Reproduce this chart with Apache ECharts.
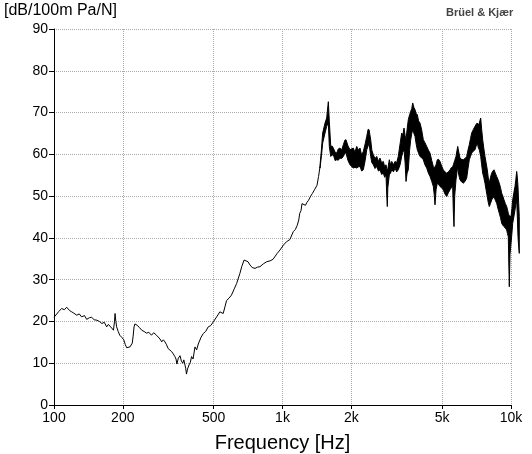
<!DOCTYPE html>
<html><head><meta charset="utf-8">
<script src="https://cdn.jsdelivr.net/npm/echarts@6/dist/echarts.min.js"></script>
<style>html,body{margin:0;padding:0;background:#fff}#c{width:532px;height:454px}</style>
</head><body><div id="c"></div><script>
// ---- data ----
const xTickValues = [100, 200, 500, 1000, 2000, 5000, 10000];
const yTitle = '[dB/100m Pa/N]';
const xTitle = 'Frequency [Hz]';
const brand = 'Brüel & Kjær';

// thin part of the curve: frequency (Hz) and level (dB)
const lowFreq = [100,102,105,108,111,113.6,117,119.5,122,125.7,129,132,136,139,143,146,150,154,158,162,166,170,173,176,179,182,184,185,186.5,188,191,194,198,202,205,208,212,215,218,220,222,224,226,231,236,242,248,254,260,267,273,281,286,291,296,301,306,311,316,322,327,333,338,342,345,350,356,361,366,370,374,377,380,384,390,395,400,406,414,421,428,440,450,461,473,485,498,506,515,532,542,550,560,569,584,598,615,630,651,663,679,692,706,721,737,758,777,797,825,853,882,910,945,975,1010,1042,1077,1115,1138,1160,1178,1190,1205,1217,1237,1260,1279,1300,1322,1350,1380,1416,1438,1459];
const lowDb = [21.0,21.3,22.4,23.1,22.8,23.4,22.6,22.3,22.0,21.5,21.8,21.1,21.4,20.5,20.9,21.0,20.4,20.3,20.0,19.5,19.8,18.7,19.3,19.1,18.4,17.9,20.0,21.9,20.0,18.7,17.6,16.7,16.2,15.6,14.5,13.7,14.1,13.9,14.3,14.8,16.5,18.7,19.4,19.1,18.6,17.9,17.6,17.2,17.4,16.7,17.3,16.7,16.3,15.8,15.1,15.6,15.1,14.4,13.5,13.9,12.8,12.2,11.6,11.0,9.8,11.2,11.8,10.5,10.0,10.8,10.5,8.8,7.4,8.6,9.6,10.2,11.6,11.0,13.9,13.2,14.6,16.2,17.1,17.6,18.7,19.0,19.9,20.3,21.1,22.3,22.0,21.9,23.5,25.0,25.6,26.3,27.8,29.1,31.5,33.1,34.7,35.1,34.3,33.5,32.9,32.7,33.0,33.1,33.8,34.3,34.5,34.9,36.2,37.1,38.3,39.1,39.6,41.5,42.0,43.0,44.3,45.9,46.5,48.2,48.6,47.8,48.5,49.0,49.8,50.6,51.5,52.6,54.7,57.0];

// dense (oscillating) part: frequency, upper and lower edge of the band (dB)
const bandFreq = [1459,1480,1499,1535,1561,1587,1603,1626,1648,1669,1700,1727,1755,1785,1815,1846,1875,1896,1935,1974,2041,2075,2112,2150,2184,2220,2258,2300,2337,2370,2392,2432,2460,2497,2540,2584,2630,2671,2715,2762,2800,2838,2860,2875,2890,2934,2970,3006,3060,3107,3160,3211,3270,3324,3360,3402,3440,3472,3510,3553,3600,3640,3680,3714,3760,3801,3845,3890,3940,3997,4060,4133,4200,4277,4350,4423,4500,4571,4610,4650,4700,4759,4820,4890,4970,5055,5140,5232,5320,5408,5480,5556,5595,5630,5670,5745,5845,5910,5982,6080,6184,6290,6399,6480,6569,6650,6730,6850,6958,7040,7121,7200,7266,7369,7440,7518,7600,7694,7780,7875,7950,8035,8130,8232,8330,8425,8540,8656,8770,8886,9000,9104,9210,9318,9450,9576,9650,9732,9780,9831,9900,10000,10090,10172,10290,10411,10500,10590,10660,10730,10800,10871];
const bandTop = [57.3,61.0,65.1,67.5,68.7,72.6,67.9,61.9,62.0,61.5,60.5,60.3,61.3,61.5,61.0,62.3,63.4,63.5,62.0,61.1,61.5,60.5,61.9,61.0,61.5,59.8,60.7,62.5,64.3,66.0,65.9,63.5,61.0,59.9,59.0,59.5,58.3,59.1,58.0,58.3,57.0,57.5,56.5,56.0,56.5,58.7,57.5,58.3,57.5,58.3,58.0,59.5,62.5,65.1,64.5,66.3,64.5,63.5,66.0,68.3,69.5,70.3,71.0,72.3,71.2,70.7,69.8,69.5,68.0,67.5,66.0,63.5,62.8,61.9,61.0,60.3,58.5,57.1,56.8,57.0,57.5,58.7,58.8,58.3,57.2,56.3,55.8,55.5,55.8,56.3,56.8,57.1,57.5,58.0,58.5,59.5,61.9,60.5,59.1,58.8,58.7,59.0,59.5,61.0,62.3,63.8,65.1,66.0,66.7,67.2,67.5,67.0,67.5,68.7,66.0,63.5,61.5,59.5,58.0,56.3,54.5,53.1,54.5,55.5,56.0,56.3,55.5,54.7,54.0,53.1,52.0,50.7,50.0,49.1,48.2,47.5,46.8,45.9,45.5,45.3,45.2,45.1,47.0,49.1,50.8,52.3,54.0,55.9,54.5,52.3,48.5,45.1];
const bandBottom = [56.7,59.5,62.7,65.1,66.7,67.5,61.9,59.5,59.8,59.9,58.5,58.7,58.6,59.1,59.0,59.5,60.3,60.3,58.5,57.5,56.7,56.9,56.7,57.0,57.1,56.0,56.3,58.5,61.1,62.0,62.7,59.5,58.0,57.5,56.6,57.1,56.0,56.3,55.2,55.5,54.5,55.1,50.0,47.5,52.0,55.1,55.5,56.3,55.8,56.7,55.8,56.3,57.5,59.5,60.5,61.1,58.0,53.5,55.5,56.3,61.0,63.5,65.0,65.9,65.0,64.3,62.5,61.1,60.3,59.5,59.2,58.7,57.5,56.7,55.5,54.7,53.5,52.3,50.5,47.9,51.5,53.1,52.8,52.3,52.0,51.5,50.5,49.9,50.8,51.5,52.0,52.3,46.0,42.7,50.0,53.9,57.1,55.0,53.9,53.4,53.1,53.5,54.3,56.5,58.7,59.5,60.3,60.8,61.1,62.0,62.7,61.5,61.1,59.5,57.5,55.5,54.5,53.1,51.5,49.9,48.5,47.5,48.2,49.1,49.5,49.9,49.0,48.3,47.0,45.9,44.8,43.5,43.0,42.7,42.3,41.9,41.0,40.3,34.0,28.3,36.0,38.7,41.0,43.5,45.0,46.7,48.0,49.1,45.0,40.3,38.0,36.3];

// ---- chart ----
const lowData = lowFreq.map((f, i) => [f, lowDb[i]]);
const bandData = bandFreq.map((f, i) => [f, bandTop[i], bandBottom[i]]);

function renderBand(params, api) {
  if (params.dataIndex !== 0) return null;
  const pts = [];
  for (let i = 0; i < bandData.length; i++) pts.push(api.coord([bandData[i][0], bandData[i][1]]));
  for (let i = bandData.length - 1; i >= 0; i--) pts.push(api.coord([bandData[i][0], bandData[i][2]]));
  return {type: 'polygon', shape: {points: pts},
    style: {fill: '#000', stroke: '#000', lineWidth: 1, lineJoin: 'round'}};
}

const font = 'Liberation Sans, Arial, sans-serif';
const chart = echarts.init(document.getElementById('c'), null, {renderer: 'canvas'});
chart.setOption({
  animation: false,
  backgroundColor: '#fff',
  grid: {left: 54, right: 21, top: 29, bottom: 49, containLabel: false, outerBoundsMode: 'none'},
  graphic: [
    {type: 'text', left: 4, top: 3, style: {text: yTitle, font: '16px ' + font, fill: '#000'}},
    {type: 'text', left: 446, top: 7, style: {text: brand, font: 'bold 11px ' + font, fill: '#444'}}
  ],
  xAxis: {
    type: 'log', logBase: 10, min: 100, max: 10000,
    name: xTitle, nameLocation: 'middle', nameGap: 28,
    nameTextStyle: {fontSize: 20, fontFamily: font, color: '#000'},
    axisLine: {show: true, lineStyle: {color: '#000', width: 1}},
    axisTick: {show: true, length: 4, customValues: xTickValues, lineStyle: {color: '#000'}},
    axisLabel: {customValues: xTickValues, color: '#000', fontSize: 14, fontFamily: font, margin: 6,
      formatter: v => v >= 1000 ? (v / 1000) + 'k' : String(v)},
    splitLine: {show: true, lineStyle: {type: 'dotted', color: '#aaa', width: 1}},
    minorTick: {show: false}, minorSplitLine: {show: false}
  },
  yAxis: {
    type: 'value', min: 0, max: 90, interval: 10,
    axisLine: {show: true, lineStyle: {color: '#000', width: 1}},
    axisTick: {show: true, length: 5, lineStyle: {color: '#000'}},
    axisLabel: {color: '#000', fontSize: 14, fontFamily: font, margin: 6},
    splitLine: {show: true, lineStyle: {type: 'dotted', color: '#aaa', width: 1}}
  },
  series: [
    {type: 'line', data: lowData, symbol: 'none', clip: false,
      lineStyle: {color: '#000', width: 1}},
    {type: 'custom', data: bandData, encode: {x: 0, y: [1, 2]}, clip: false,
      renderItem: renderBand}
  ]
});
</script></body></html>
